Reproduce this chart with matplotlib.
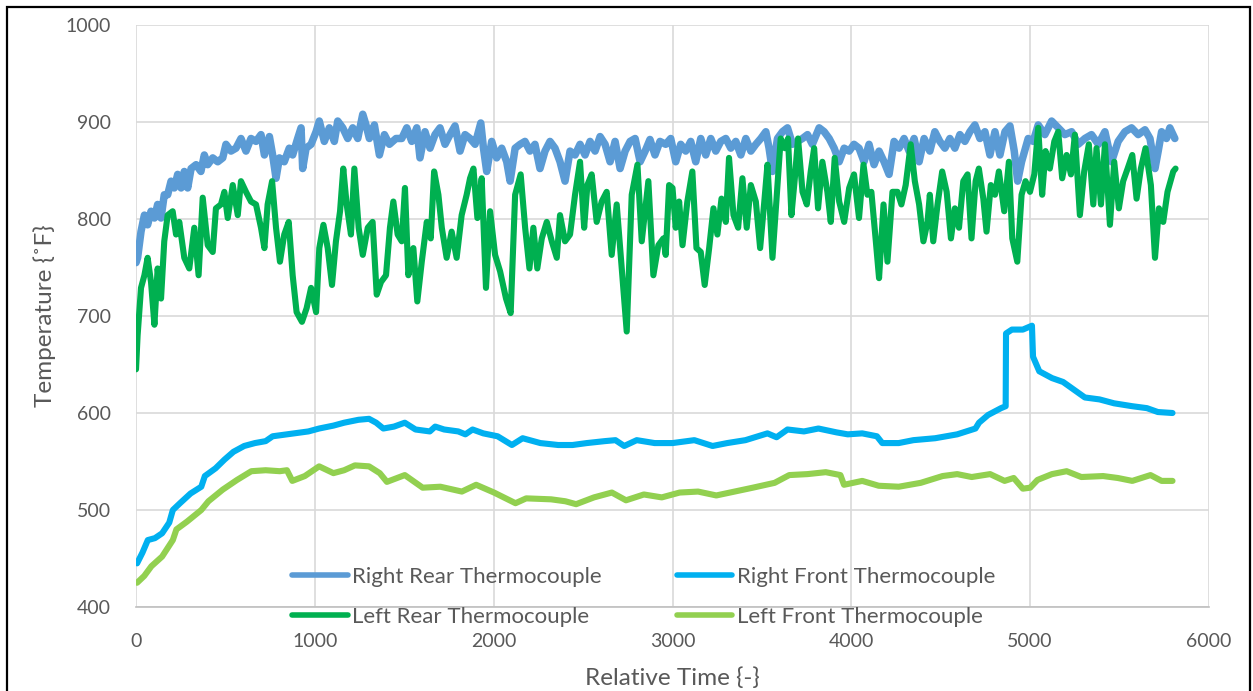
import matplotlib
matplotlib.use('Agg')
import matplotlib.pyplot as plt
from matplotlib.patches import Rectangle

plt.rcParams['font.family'] = ['Lato', 'DejaVu Sans']

# ---- thermocouple readings (time, temperature degF) ----
rr_time = [0, 9, 28, 47, 65, 84, 103, 121, 140, 158, 177, 196, 214, 233, 252, 270, 289, 308,
           336, 363, 382, 401, 429, 457, 485, 503, 531, 559, 587, 615, 643, 671, 699, 718,
           746, 764, 783, 802, 829, 857, 876, 904, 923, 932, 951, 979, 1007, 1025, 1053,
           1081, 1109, 1128, 1156, 1184, 1212, 1240, 1268, 1286, 1305, 1333, 1361, 1389,
           1417, 1454, 1486, 1514, 1542, 1570, 1588, 1616, 1644, 1672, 1700, 1728, 1756,
           1784, 1812, 1840, 1868, 1896, 1928, 1943, 1961, 1989, 2017, 2045, 2073, 2092,
           2120, 2148, 2175, 2203, 2231, 2259, 2287, 2315, 2343, 2371, 2399, 2427, 2455,
           2483, 2511, 2539, 2567, 2595, 2623, 2651, 2679, 2707, 2735, 2763, 2791, 2819,
           2847, 2874, 2902, 2930, 2962, 2990, 3018, 3046, 3074, 3102, 3130, 3158, 3186,
           3214, 3242, 3270, 3298, 3326, 3354, 3382, 3410, 3438, 3466, 3494, 3522, 3540,
           3559, 3587, 3615, 3643, 3671, 3699, 3727, 3755, 3782, 3820, 3848, 3876, 3904,
           3932, 3960, 3988, 4015, 4043, 4071, 4099, 4127, 4155, 4183, 4211, 4239, 4267,
           4295, 4323, 4351, 4379, 4407, 4439, 4467, 4495, 4523, 4551, 4579, 4607, 4635,
           4663, 4691, 4719, 4747, 4775, 4803, 4831, 4859, 4887, 4911, 4930, 4952, 4989,
           5017, 5045, 5082, 5120, 5157, 5194, 5232, 5269, 5306, 5343, 5381, 5418, 5455,
           5492, 5530, 5567, 5604, 5642, 5670, 5698, 5716, 5735, 5762, 5781, 5809]
rr_temp = [755, 760, 787, 804, 794, 808, 801, 815, 801, 825, 825, 839, 832, 846, 832, 849, 832, 852,
           856, 849, 866, 856, 863, 859, 863, 877, 870, 873, 883, 870, 883, 880, 887, 866,
           885, 866, 842, 863, 859, 873, 866, 883, 894, 852, 873, 877, 890, 901, 880,
           894, 880, 901, 894, 883, 894, 883, 908, 897, 883, 897, 866, 887,
           877, 883, 883, 894, 880, 894, 863, 890, 873, 887, 894, 877, 887,
           896, 870, 887, 883, 877, 899, 873, 849, 880, 863, 873, 859, 839,
           873, 877, 880, 870, 877, 852, 870, 880, 873, 859, 839, 870, 866,
           877, 866, 880, 870, 885, 877, 859, 880, 852, 870, 880, 883, 859,
           870, 882, 866, 880, 877, 883, 859, 877, 870, 880, 859, 883, 866,
           883, 870, 880, 883, 873, 880, 866, 883, 870, 877, 883, 890, 873,
           849, 883, 890, 894, 877, 880, 883, 887, 877, 894, 890, 883, 873,
           859, 873, 870, 877, 873, 859, 877, 856, 870, 859, 846, 880, 873,
           883, 870, 883, 859, 883, 870, 890, 880, 873, 883, 873, 887, 880,
           890, 897, 883, 890, 866, 890, 866, 890, 896, 870, 839, 859, 883,
           880, 897, 887, 901, 894, 887, 890, 877, 883, 887, 877, 890, 859,
           880, 890, 894, 887, 892, 883, 852, 870, 890, 883, 894, 883]

lr_time = [0, 9, 28, 47, 65, 84, 103, 121, 140, 158, 177, 205, 224, 242, 270, 298, 326, 350,
           373, 401, 429, 447, 475, 494, 513, 541, 569, 587, 615, 643, 671, 699, 718, 736,
           761, 783, 805, 829, 854, 876, 898, 928, 954, 979, 1007, 1025, 1048, 1072, 1096,
           1118, 1141, 1159, 1178, 1202, 1221, 1245, 1268, 1296, 1323, 1346, 1370, 1398,
           1420, 1439, 1463, 1486, 1504, 1523, 1551, 1573, 1598, 1626, 1648, 1667, 1691,
           1710, 1737, 1765, 1793, 1821, 1849, 1868, 1887, 1909, 1933, 1957, 1980, 2008,
           2036, 2069, 2095, 2120, 2151, 2176, 2200, 2222, 2244, 2269, 2297, 2325, 2353,
           2371, 2399, 2427, 2455, 2483, 2506, 2524, 2548, 2576, 2604, 2632, 2660, 2688,
           2716, 2744, 2772, 2804, 2828, 2865, 2893, 2921, 2949, 2962, 2981, 3000, 3018,
           3037, 3056, 3083, 3111, 3134, 3158, 3180, 3205, 3229, 3251, 3274, 3298, 3316,
           3341, 3367, 3391, 3415, 3438, 3466, 3490, 3512, 3531, 3559, 3583, 3605, 3628,
           3646, 3665, 3684, 3702, 3727, 3751, 3773, 3792, 3814, 3838, 3866, 3885, 3907,
           3932, 3960, 3988, 4015, 4043, 4068, 4090, 4112, 4137, 4155, 4180, 4202, 4230,
           4258, 4280, 4304, 4332, 4355, 4379, 4403, 4426, 4439, 4458, 4482, 4508, 4533,
           4557, 4579, 4602, 4626, 4650, 4672, 4695, 4713, 4738, 4756, 4780, 4803, 4825,
           4855, 4881, 4900, 4928, 4952, 4974, 4999, 5023, 5045, 5067, 5086, 5110, 5135,
           5157, 5179, 5204, 5228, 5250, 5278, 5302, 5328, 5353, 5371, 5396, 5418, 5446,
           5470, 5496, 5520, 5545, 5571, 5595, 5619, 5645, 5675, 5698, 5720, 5744, 5768,
           5800, 5813]
lr_temp = [645, 680, 729, 742, 760, 735, 691, 749, 718, 777, 804, 808, 784, 797, 760, 749, 791, 742,
           822, 773, 766, 811, 815, 828, 801, 835, 804, 839, 828, 818, 815, 791, 770, 815,
           839, 791, 756, 784, 797, 742, 704, 694, 708, 729, 704, 770, 794, 770, 732,
           777, 808, 852, 815, 784, 852, 791, 763, 791, 797, 722, 735, 742,
           791, 818, 784, 777, 832, 742, 770, 715, 756, 797, 780, 849, 825,
           791, 760, 787, 760, 804, 825, 842, 852, 801, 842, 729, 808, 763,
           746, 718, 703, 825, 846, 791, 749, 791, 749, 780, 797, 777, 760,
           804, 777, 784, 825, 859, 791, 835, 846, 797, 818, 828, 763, 815,
           749, 684, 825, 856, 777, 839, 742, 773, 780, 763, 835, 832, 791,
           818, 773, 818, 849, 770, 766, 732, 770, 811, 784, 821, 797, 863,
           804, 791, 842, 791, 835, 818, 770, 815, 856, 760, 825, 883, 873,
           883, 804, 842, 883, 828, 815, 849, 873, 811, 859, 828, 797, 863,
           818, 797, 832, 846, 801, 856, 825, 828, 777, 739, 815, 756, 828,
           828, 815, 835, 877, 839, 815, 777, 797, 825, 777, 815, 849, 828,
           780, 811, 791, 839, 846, 780, 839, 852, 821, 787, 835, 825, 849,
           808, 859, 780, 756, 825, 839, 828, 846, 894, 825, 870, 852, 880,
           890, 842, 866, 846, 887, 804, 849, 877, 815, 873, 815, 877, 794,
           859, 811, 839, 852, 866, 821, 852, 873, 835, 760, 811, 797, 828,
           849, 852]

rf_time = [6, 36, 66, 106, 146, 186, 206, 246, 305, 365, 385, 445, 495, 545, 605, 665, 725,
           764, 844, 884, 964, 1024, 1104, 1164, 1244, 1303, 1343, 1383, 1443, 1503, 1563,
           1643, 1673, 1723, 1802, 1842, 1882, 1942, 2022, 2102, 2162, 2261, 2361, 2441,
           2521, 2621, 2681, 2730, 2800, 2900, 3000, 3122, 3224, 3306, 3408, 3531, 3582,
           3643, 3735, 3816, 3918, 3980, 4061, 4143, 4173, 4265, 4347, 4469, 4592, 4694,
           4714, 4765, 4837, 4863, 4865, 4898, 4959, 5010, 5016, 5051, 5122, 5184, 5245,
           5306, 5388, 5469, 5571, 5653, 5714, 5796]
rf_temp = [445, 456, 469, 471, 476, 487, 500, 507, 517, 524, 535, 543, 552, 560, 566, 569, 571,
           576, 578, 579, 581, 584, 587, 590, 593, 594, 590, 584, 586, 590, 583,
           581, 586, 583, 581, 578, 583, 579, 576, 567, 574, 569, 567, 567,
           569, 571, 572, 566, 572, 569, 569, 572, 566, 569, 572, 579, 575,
           583, 581, 584, 580, 578, 579, 576, 569, 569, 572, 574, 578, 584,
           590, 598, 605, 607, 682, 686, 686, 690, 658, 643, 636, 632, 624,
           616, 614, 610, 607, 605, 601, 600]

lf_time = [6, 46, 86, 146, 206, 226, 285, 365, 405, 485, 565, 645, 725, 804, 844, 874, 944,
           1024, 1104, 1164, 1224, 1303, 1363, 1403, 1503, 1603, 1702, 1822, 1902, 2002,
           2122, 2182, 2321, 2401, 2461, 2561, 2661, 2740, 2840, 2940, 3040, 3143, 3245,
           3347, 3449, 3571, 3653, 3755, 3857, 3939, 3959, 4061, 4153, 4265, 4388, 4510,
           4592, 4673, 4776, 4857, 4908, 4959, 5000, 5041, 5122, 5204, 5286, 5408, 5490,
           5571, 5673, 5735, 5796]
lf_temp = [425, 432, 442, 452, 469, 480, 488, 500, 509, 521, 531, 540, 541, 540, 541, 530, 535,
           545, 538, 541, 546, 545, 538, 529, 536, 523, 524, 519, 526, 518,
           507, 512, 511, 509, 506, 513, 518, 510, 516, 513, 518, 519, 515,
           519, 523, 528, 536, 537, 539, 536, 526, 530, 525, 524, 528, 535,
           537, 534, 537, 530, 533, 522, 523, 531, 537, 540, 534, 535, 533,
           530, 536, 530, 530]

labels = ['Right Rear Thermocouple', 'Right Front Thermocouple',
          'Left Rear Thermocouple', 'Left Front Thermocouple']
colors = ['#5B9BD5', '#00B0F0', '#00B050', '#92D050']
x_ticks = [0, 1000, 2000, 3000, 4000, 5000, 6000]
y_ticks = [400, 500, 600, 700, 800, 900, 1000]

W, H = 1253, 691
fig = plt.figure(figsize=(W / 100, H / 100), dpi=100)
ax = fig.add_axes([136 / W, 1 - 607 / H, (1209 - 136) / W, (607 - 25) / H])

lw = 4.4
style = dict(solid_capstyle='round', solid_joinstyle='round')
l_rr, = ax.plot(rr_time, rr_temp, color=colors[0], lw=lw + 1.0, label=labels[0], **style)
l_rf, = ax.plot(rf_time, rf_temp, color=colors[1], lw=lw, label=labels[1], **style)
l_lr, = ax.plot(lr_time, lr_temp, color=colors[2], lw=lw, label=labels[2], **style)
l_lf, = ax.plot(lf_time, lf_temp, color=colors[3], lw=lw, label=labels[3], **style)

ax.set_xlim(0, 6000)
ax.set_ylim(400, 1000)
ax.set_xticks(x_ticks)
ax.set_yticks(y_ticks)
ax.grid(True, color='#D9D9D9', lw=1.2)
ax.set_axisbelow(True)
for side in ['top', 'right', 'left']:
    ax.spines[side].set_visible(False)
ax.spines['bottom'].set_color('#BFBFBF')
ax.spines['bottom'].set_linewidth(1.2)
ax.tick_params(length=0, labelsize=14, colors='#595959')
ax.tick_params(axis='x', pad=19)
ax.tick_params(axis='y', pad=18)

ax.set_xlabel('Relative Time {-}', fontsize=17.5, color='#595959', labelpad=12)
ax.set_ylabel('Temperature {˚F}', fontsize=17.5, color='#595959', labelpad=7)

# legend sits inside the plot, over the bottom of the axis
leg = fig.legend([l_rr, l_lr, l_rf, l_lf],
                 [labels[0], labels[2], labels[1], labels[3]],
                 ncol=2, loc='upper left', bbox_to_anchor=(292 / W, 1 - 567 / H),
                 frameon=False, fontsize=16, handlelength=2.5, handletextpad=0.22,
                 columnspacing=3.35, labelspacing=0.9, borderpad=0, borderaxespad=0)
for t in leg.get_texts():
    t.set_color('#595959')
for h in leg.legend_handles:
    h.set_linewidth(4)
    h.set_solid_capstyle('round')

# chart border
fig.patches.append(Rectangle((7 / W, -0.02), (1250 - 7) / W, 1.02 - 7 / H,
                             transform=fig.transFigure, fill=False,
                             edgecolor='black', lw=1.6))

fig.savefig('out.png', dpi=100)
